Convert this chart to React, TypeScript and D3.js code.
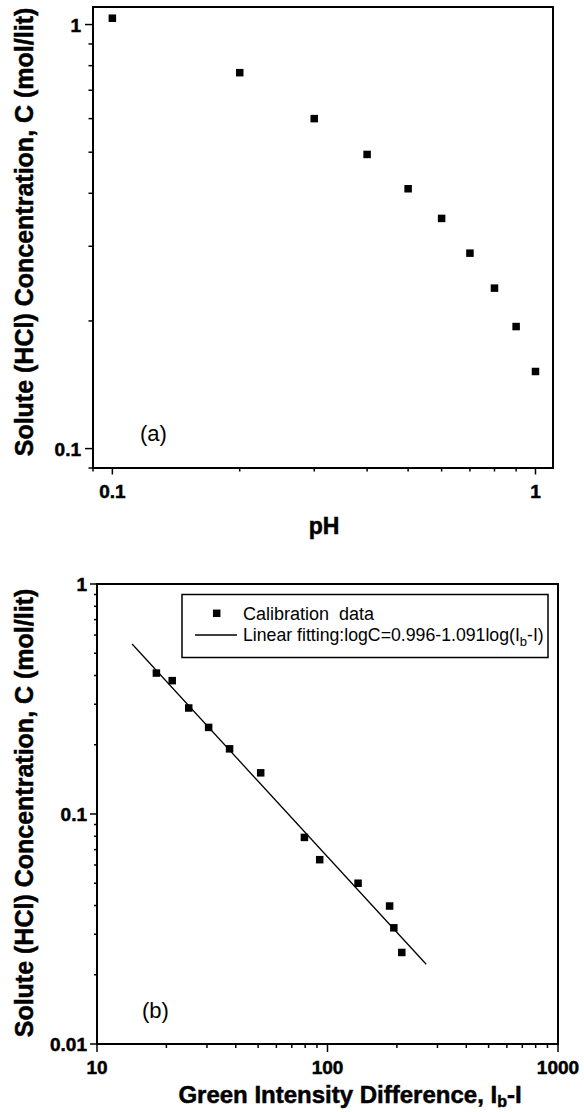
import React from 'react';
import * as d3 from 'd3';

// Panel (a): concentration vs pH
const pHValues = [0.1, 0.2, 0.3, 0.4, 0.5, 0.6, 0.7, 0.8, 0.9, 1.0];
const concA = [1.035, 0.77, 0.6, 0.494, 0.41, 0.349, 0.289, 0.239, 0.194, 0.152];

// Panel (b): concentration vs green intensity difference
const intensityDiff = [18.1, 21.2, 25.0, 30.5, 37.6, 51.3, 79.4, 92.5, 135.7, 186, 194, 210];
const concB = [0.41, 0.38, 0.289, 0.238, 0.192, 0.151, 0.0791, 0.0633, 0.05, 0.0398, 0.032, 0.025];

const fitIntercept = 0.996;
const fitSlope = -1.091;
const fitRange = [14.2, 268];

const majorA = [0.1, 1];
const majorB = [0.01, 0.1, 1];
const majorBx = [10, 100, 1000];

const yTitle = 'Solute (HCl) Concentration, C (mol/lit)';
const FONT = 'Arial, "Liberation Sans", Helvetica, sans-serif';

const isMajor = (v: number) => Math.abs(Math.log10(v) - Math.round(Math.log10(v))) < 1e-6;
const fmt = (v: number) => (v >= 1 ? String(Math.round(v)) : String(+v.toFixed(3)));

const heavy = { fontWeight: 'bold' as const, stroke: '#000', strokeWidth: 0.5 };

export default function App() {
  // ---- Panel A scales
  const ax = d3.scaleLog().domain([0.09, 1.1]).range([93, 553]);
  const ay = d3.scaleLog().domain([0.09, 1.1]).range([468, 7]);
  // ---- Panel B scales
  const bx = d3.scaleLog().domain([10, 1000]).range([97, 558]);
  const by = d3.scaleLog().domain([0.01, 1]).range([1044, 584]);

  const fitLine = d3
    .line<number>()
    .x((d) => bx(d))
    .y((d) => by(Math.pow(10, fitIntercept + fitSlope * Math.log10(d))));

  const ms = 7.5;

  const axTicks = ax.ticks().filter((t) => t >= 0.09 && t <= 1.1);
  const ayTicks = ay.ticks().filter((t) => t >= 0.09 && t <= 1.1);
  const bxTicks = bx.ticks();
  const byTicks = by.ticks();

  return (
    <svg
      width={584}
      height={1112}
      style={{ position: 'absolute', left: 0, top: 0, background: '#fff' }}
      fontFamily={FONT}
    >
      <rect x={0} y={0} width={584} height={1112} fill="#fff" />

      {/* ===== Panel A ===== */}
      <rect x={93} y={7} width={460} height={461} fill="none" stroke="#000" strokeWidth={2} />
      {ayTicks.map((t, i) => (
        <line key={'ayt' + i} x1={isMajor(t) ? 85 : 88.5} x2={93} y1={ay(t)} y2={ay(t)} stroke="#000" strokeWidth={1.5} />
      ))}
      {axTicks.map((t, i) => (
        <line key={'axt' + i} x1={ax(t)} x2={ax(t)} y1={468} y2={isMajor(t) ? 474.5 : 471.5} stroke="#000" strokeWidth={1.5} />
      ))}
      {majorA.map((t) => (
        <text key={'ayl' + t} x={81} y={ay(t) + 7} textAnchor="end" fontSize={19} {...heavy}>
          {fmt(t)}
        </text>
      ))}
      {majorA.map((t) => (
        <text key={'axl' + t} x={ax(t)} y={498} textAnchor="middle" fontSize={19} {...heavy}>
          {fmt(t)}
        </text>
      ))}
      {pHValues.map((p, i) => (
        <rect key={'pa' + i} x={ax(p) - ms / 2} y={ay(concA[i]) - ms / 2} width={ms} height={ms} fill="#000" />
      ))}
      <text x={140} y={441} fontSize={22}>(a)</text>
      <text x={324} y={534} textAnchor="middle" fontSize={23} {...heavy}>pH</text>
      <text
        transform={`translate(33, 232) rotate(-90)`}
        textAnchor="middle"
        fontSize={25}
        {...heavy}
      >
        {yTitle}
      </text>

      {/* ===== Panel B ===== */}
      <rect x={97} y={584} width={461} height={460} fill="none" stroke="#000" strokeWidth={2} />
      {byTicks.map((t, i) => (
        <line key={'byt' + i} x1={isMajor(t) ? 90 : 94} x2={97} y1={by(t)} y2={by(t)} stroke="#000" strokeWidth={1.5} />
      ))}
      {bxTicks.map((t, i) => (
        <line key={'bxt' + i} x1={bx(t)} x2={bx(t)} y1={1044} y2={isMajor(t) ? 1052 : 1048} stroke="#000" strokeWidth={1.5} />
      ))}
      {majorB.map((t) => (
        <text key={'byl' + t} x={87} y={by(t) + 7} textAnchor="end" fontSize={19} {...heavy}>
          {fmt(t)}
        </text>
      ))}
      {majorBx.map((t) => (
        <text key={'bxl' + t} x={bx(t)} y={1074} textAnchor="middle" fontSize={19} {...heavy}>
          {fmt(t)}
        </text>
      ))}
      <path d={fitLine(fitRange) || ''} fill="none" stroke="#000" strokeWidth={1.3} />
      {intensityDiff.map((v, i) => (
        <rect key={'pb' + i} x={bx(v) - ms / 2} y={by(concB[i]) - ms / 2} width={ms} height={ms} fill="#000" />
      ))}

      {/* legend */}
      <rect x={182} y={594.5} width={366} height={63} fill="#fff" stroke="#000" strokeWidth={1.5} />
      <rect x={216.7 - ms / 2} y={613.3 - ms / 2} width={ms} height={ms} fill="#000" />
      <text x={243} y={620} fontSize={18}>
        Calibration{'\u00a0\u00a0'}data
      </text>
      <line x1={195} x2={237} y1={635} y2={635} stroke="#000" strokeWidth={1.3} />
      <text x={243} y={641} fontSize={17.7}>
        Linear fitting:logC=0.996-1.091log(I
        <tspan dy={5} fontSize={13}>b</tspan>
        <tspan dy={-5}>-I)</tspan>
      </text>

      <text x={142} y={1018} fontSize={22}>(b)</text>
      <text
        transform={`translate(33, 813) rotate(-90)`}
        textAnchor="middle"
        fontSize={25}
        {...heavy}
      >
        {yTitle}
      </text>
      <text x={350} y={1103} textAnchor="middle" fontSize={24} {...heavy}>
        Green Intensity Difference, I
        <tspan dy={4} fontSize={16}>b</tspan>
        <tspan dy={-4}>-I</tspan>
      </text>
    </svg>
  );
}
